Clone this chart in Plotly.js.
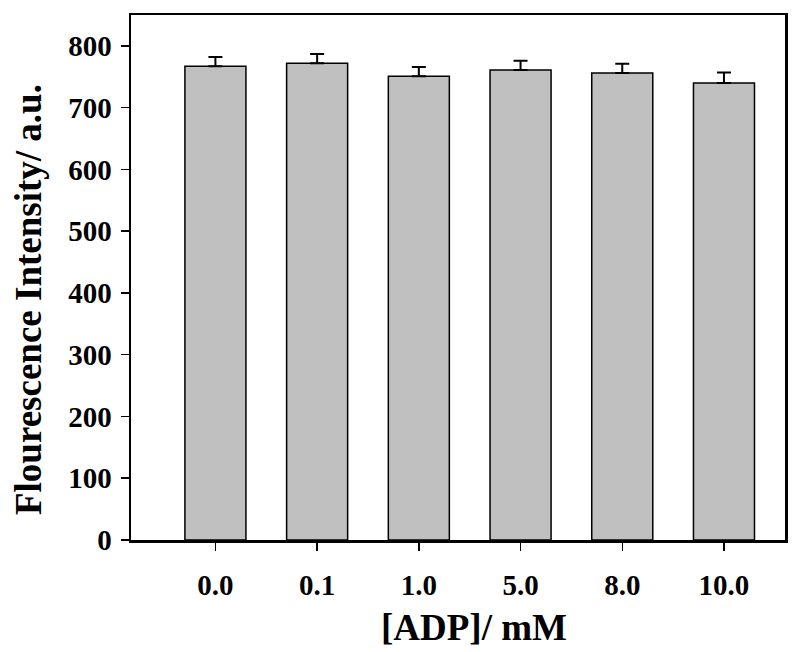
<!DOCTYPE html>
<html>
<head>
<meta charset="utf-8">
<script src="https://cdn.plot.ly/plotly-3.0.1.min.js"></script>
<style>html,body{margin:0;padding:0;background:#fff;}#chart{width:800px;height:652px;}</style>
</head>
<body>
<div id="chart"></div>
<script>
const categories = ["0.0", "0.1", "1.0", "5.0", "8.0", "10.0"];
const intensity = [767, 772, 751, 761, 756, 740];
const errorPlus = [15, 15, 15, 15, 15, 17];
const yTicks = [0, 100, 200, 300, 400, 500, 600, 700, 800];
const xTitle = '[ADP]/ mM';
const yTitle = 'Flourescence Intensity/ a.u.';

const xIdx = categories.map((c, i) => i);
const fontFam = '"Liberation Serif", "Times New Roman", serif';

const trace = {
  type: 'bar',
  x: xIdx,
  y: intensity,
  width: 0.6,
  marker: {color: '#c0c0c0', line: {color: '#000', width: 1.5}},
  error_y: {type: 'data', symmetric: false, array: errorPlus, arrayminus: errorPlus.map(() => 0), color: '#000', thickness: 2, width: 7},
  hoverinfo: 'none'
};

const layout = {
  width: 800, height: 652,
  margin: {l: 131, r: 15, t: 15, b: 112},
  paper_bgcolor: '#fff', plot_bgcolor: '#fff',
  showlegend: false,
  font: {family: fontFam, color: '#000'},
  xaxis: {
    range: [-0.83, 5.6],
    tickmode: 'array', tickvals: xIdx, ticktext: categories,
    ticks: 'outside', ticklen: 8, tickwidth: 1.5, tickcolor: '#000',
    showline: true, linecolor: '#000', linewidth: 2.5, mirror: true,
    showgrid: false, zeroline: false,
    tickfont: {family: fontFam, size: 29, weight: 'bold'},
    ticklabelstandoff: 10
  },
  yaxis: {
    range: [0, 850],
    tickmode: 'array', tickvals: yTicks,
    ticks: 'outside', ticklen: 8, tickwidth: 1.5, tickcolor: '#000',
    showline: true, linecolor: '#000', linewidth: 2.5, mirror: true,
    showgrid: false, zeroline: false,
    tickfont: {family: fontFam, size: 29, weight: 'bold'},
    ticklabelstandoff: 3
  },
  annotations: [
    {text: '<b>' + xTitle + '</b>', xref: 'paper', yref: 'paper', x: 0.5245, y: -0.166,
     xanchor: 'center', yanchor: 'middle', showarrow: false, font: {family: fontFam, size: 37, color: '#000'}},
    {text: '<b>' + yTitle + '</b>', xref: 'paper', yref: 'paper', x: -0.1575, y: 0.459, textangle: -90,
     xanchor: 'center', yanchor: 'middle', showarrow: false, font: {family: fontFam, size: 37, color: '#000'}}
  ]
};

Plotly.newPlot('chart', [trace], layout, {displayModeBar: false, staticPlot: true});
</script>
</body>
</html>
